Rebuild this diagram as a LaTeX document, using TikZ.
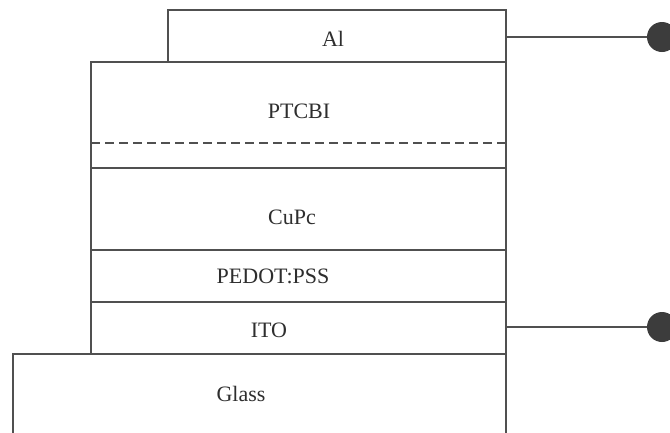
\documentclass[tikz,border=0pt]{standalone}
\usepackage{fontspec}
\setmainfont{Liberation Serif}
\definecolor{ink}{HTML}{505050}
\definecolor{txt}{HTML}{2E2E2E}
\definecolor{dot}{HTML}{3C3C3C}
\begin{document}
\begin{tikzpicture}[x=1pt,y=-1pt,
  layer/.style={draw=ink,line width=1.8pt,rectangle,anchor=north west,inner sep=0pt,outer sep=0pt},
  lbl/.style={text=txt,font=\fontsize{22}{25}\selectfont,inner sep=0pt},
  wire/.style={draw=ink,line width=1.8pt},
  terminal/.style={circle,fill=dot,minimum size=30pt,inner sep=0pt}]
\clip (0,0) rectangle (670,432);
\fill[white] (0,0) rectangle (670,432);
% layers
\node[layer,minimum width=493pt,minimum height=90pt] (glass) at (13,354) {};
\node[layer,minimum width=415pt,minimum height=52pt] (ito) at (91,302) {};
\node[layer,minimum width=415pt,minimum height=52pt] (pedot) at (91,250) {};
\node[layer,minimum width=415pt,minimum height=82pt] (cupc) at (91,168) {};
\node[layer,minimum width=415pt,minimum height=106pt] (ptcbi) at (91,62) {};
\node[layer,minimum width=338pt,minimum height=52pt] (al) at (168,10) {};
% dashed interface
\coordinate (dl) at (91,143);
\coordinate (dr) at (506,143);
\draw[draw=ink,line width=2pt,dash pattern=on 9pt off 5pt] (dl) -- (dr);
% labels
\node[lbl] (tal) at (333,39) {Al};
\node[lbl] (tptcbi) at (299,111) {PTCBI};
\node[lbl] (tcupc) at (292,217) {CuPc};
\node[lbl] (tpedot) at (273,276) {PEDOT:PSS};
\node[lbl] (tito) at (269,330) {ITO};
\node[lbl] (tglass) at (241,394) {Glass};
% terminals
\node[terminal] (t1) at (662,37) {};
\node[terminal] (t2) at (662,327) {};
\draw[wire] (al.east |- t1) -- (t1);
\draw[wire] (ito.east |- t2) -- (t2);
\end{tikzpicture}
\end{document}
